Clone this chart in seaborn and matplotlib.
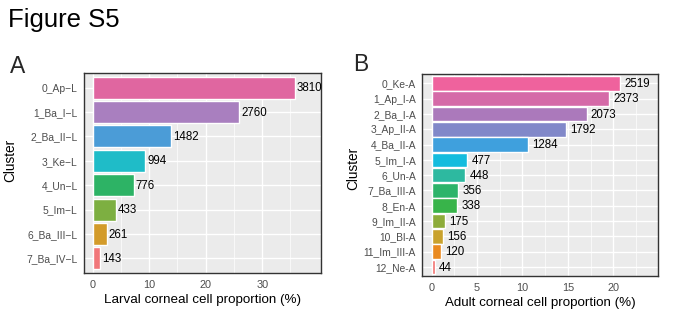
import matplotlib
matplotlib.use("Agg")
import matplotlib.pyplot as plt
import seaborn as sns
import pandas as pd

# ---- data ----
larval_clusters = ["0_Ap\u2212L", "1_Ba_I\u2212L", "2_Ba_II\u2212L", "3_Ke\u2212L",
                   "4_Un\u2212L", "5_Im\u2212L", "6_Ba_III\u2212L", "7_Ba_IV\u2212L"]
larval_counts = [3810, 2760, 1482, 994, 776, 433, 261, 143]
larval_pct = [35.74, 25.89, 13.90, 9.33, 7.28, 4.06, 2.45, 1.34]
larval_colors = ["#E066A0", "#A97FBF", "#4B9CD7", "#1FBCC8",
                 "#2DB365", "#7DAF41", "#D39B2A", "#F1777A"]
larval_xticks = [0, 10, 20, 30]
larval_minor = [5, 15, 25, 35]

adult_clusters = ["0_Ke-A", "1_Ap_I-A", "2_Ba_I-A", "3_Ap_II-A", "4_Ba_II-A",
                  "5_Im_I-A", "6_Un-A", "7_Ba_III-A", "8_En-A", "9_Im_II-A",
                  "10_Bl-A", "11_Im_III-A", "12_Ne-A"]
adult_counts = [2519, 2373, 2073, 1792, 1284, 477, 448, 356, 338, 175, 156, 120, 44]
adult_pct = [20.72, 19.52, 17.05, 14.74, 10.56, 3.92, 3.69, 2.93, 2.78,
             1.44, 1.28, 0.99, 0.36]
adult_colors = ["#EF629D", "#D56AA8", "#AB79BB", "#8188C9", "#3FA0DD",
                "#14BCDE", "#2DB9A0", "#2DB46A", "#38B44A", "#8DAC3A",
                "#C9A22D", "#EA8A1F", "#F2706E"]
adult_xticks = [0, 5, 10, 15, 20]
adult_minor = [2.5, 7.5, 12.5, 17.5, 22.5]

sns.set_theme(style="darkgrid", rc={
    "axes.facecolor": "#EBEBEB",
    "grid.color": "white",
})
plt.rcParams["font.family"] = ["Liberation Sans", "DejaVu Sans"]

fig = plt.figure(figsize=(6.79, 3.33), dpi=100)
fig.patch.set_facecolor("white")

fig.text(8 / 679, 1 - 27 / 333, "Figure S5", fontsize=18.5, ha="left",
         va="baseline", color="black")
fig.text(10 / 679, 1 - 73 / 333, "A", fontsize=16.5, ha="left", va="baseline")
fig.text(353 / 679, 1 - 71 / 333, "B", fontsize=16.5, ha="left", va="baseline")


def panel(rect, clusters, pct, counts, colors, xlim, major, minor, width,
          xlabel, ylab_pos, label_offset):
    ax = fig.add_axes(rect)
    df = pd.DataFrame({"Cluster": clusters, "pct": pct, "n": counts})
    sns.barplot(data=df, x="pct", y="Cluster", hue="Cluster", palette=colors,
                order=clusters, hue_order=clusters, width=width,
                saturation=1, legend=False, ax=ax, orient="h")
    for i, (p, n) in enumerate(zip(pct, counts)):
        ax.annotate(str(n), xy=(p, i), xytext=(label_offset, -0.5),
                    textcoords="offset points", ha="left", va="center",
                    fontsize=8.3, color="black")
    ax.set_xlim(*xlim)
    ax.set_ylim(len(clusters) - 0.4, -0.6)
    ax.set_xticks(major)
    ax.set_xticks(minor, minor=True)
    ax.grid(True, which="major", color="white", lw=1.0)
    ax.grid(True, which="minor", axis="x", color="white", lw=0.5)
    ax.set_axisbelow(True)
    ax.tick_params(axis="both", which="major", length=3, width=0.8,
                   color="#333333", labelsize=7.4, labelcolor="#4D4D4D", pad=1.5)
    ax.tick_params(axis="both", which="minor", length=0)
    ax.tick_params(axis="x", labelsize=7.8, pad=2)
    for s in ax.spines.values():
        s.set_visible(True)
        s.set_color("#333333")
        s.set_linewidth(1.0)
    ax.set_xlabel(xlabel, fontsize=9.6, color="black", labelpad=3)
    ax.set_ylabel("Cluster", fontsize=9.8, color="black")
    ax.yaxis.set_label_coords(*ylab_pos)
    return ax


panel([84 / 679, 1 - 273 / 333, 237 / 679, 200 / 333],
      larval_clusters, larval_pct, larval_counts, larval_colors,
      (-1.54, 40.4), larval_xticks, larval_minor, 0.9,
      "Larval corneal cell proportion (%)", (-0.28, 0.565), 1.5)

panel([422.3 / 679, 1 - 276 / 333, 236 / 679, 201.7 / 333],
      adult_clusters, adult_pct, adult_counts, adult_colors,
      (-1.03, 24.95), adult_xticks, adult_minor, 0.95,
      "Adult corneal cell proportion (%)", (-0.265, 0.535), 3)

fig.savefig("out.png", dpi=100)
